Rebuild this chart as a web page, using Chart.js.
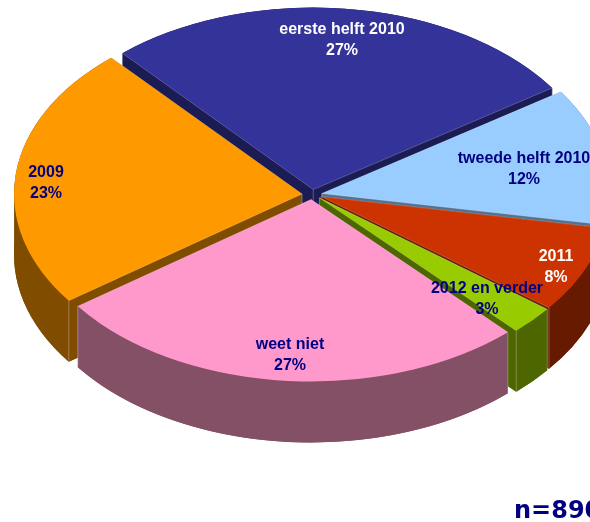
<!DOCTYPE html>
<html>
<head>
<meta charset="utf-8">
<style>html,body{margin:0;padding:0;background:#fff;overflow:hidden}canvas{display:block}</style>
<script src="https://cdn.jsdelivr.net/npm/chart.js@4/dist/chart.umd.min.js"></script>
</head>
<body>
<canvas id="c" width="590" height="522"></canvas>
<script>
const categories = ["eerste helft 2010", "tweede helft 2010", "2011", "2012 en verder", "weet niet", "2009"];
const values = [27.1, 12.2, 7.7, 2.55, 27.0, 23.45];
const note = "n=890";

const topColors = ["#333399", "#99CCFF", "#CC3300", "#99CC00", "#FF99CC", "#FF9900"];
const wallColors = ["#1C1C54", "#56718F", "#661A00", "#4D6600", "#845066", "#804D00"];
const labelColors = ["#FFFFFF", "#000080", "#FFFFFF", "#000080", "#000080", "#000080"];
const labelCentres = [[342, 30], [524, 159], [556, 257], [487, 289], [290, 345], [46, 173]];
const drawOrder = [0, 1, 5, 2, 3, 4];

const RX = 288, RY = 182, DEPTH = 61, EXPLODE_X = 10, EXPLODE_Y = 5;

const pie3d = {
  id: 'pie3d',
  beforeDatasetDraw(chart) {
    const ctx = chart.ctx;
    const els = chart.getDatasetMeta(0).data;
    ctx.save();
    drawOrder.forEach(i => {
      const el = els[i];
      const a0 = el.startAngle, a1 = el.endAngle, mid = (a0 + a1) / 2;
      const cx = el.x + Math.cos(mid) * EXPLODE_X;
      const cy = el.y + Math.sin(mid) * EXPLODE_Y;
      const rim = a => [cx + Math.cos(a) * RX, cy + Math.sin(a) * RY];
      const p0 = rim(a0), p1 = rim(a1);
      const sector = dz => {
        ctx.beginPath();
        ctx.moveTo(cx, cy + dz);
        ctx.ellipse(cx, cy + dz, RX, RY, 0, a0, a1);
        ctx.closePath();
      };
      const quad = p => {
        ctx.beginPath();
        ctx.moveTo(cx, cy);
        ctx.lineTo(p[0], p[1]);
        ctx.lineTo(p[0], p[1] + DEPTH);
        ctx.lineTo(cx, cy + DEPTH);
        ctx.closePath();
        ctx.fill();
      };
      ctx.fillStyle = wallColors[i];
      ctx.lineWidth = 1;
      sector(DEPTH);
      ctx.fill();
      ctx.beginPath();
      ctx.ellipse(cx, cy, RX, RY, 0, a0, a1);
      ctx.ellipse(cx, cy + DEPTH, RX, RY, 0, a1, a0, true);
      ctx.closePath();
      ctx.fill();
      quad(p0);
      quad(p1);
      [-Math.PI, 0, Math.PI, 2 * Math.PI].forEach(a => {
        if (a > a0 && a < a1) quad(rim(a));
      });
      ctx.strokeStyle = 'rgba(255,255,255,0.28)';
      [p0, p1, [cx, cy]].forEach(p => {
        ctx.beginPath();
        ctx.moveTo(p[0], p[1]);
        ctx.lineTo(p[0], p[1] + DEPTH);
        ctx.stroke();
      });
      sector(0);
      ctx.fillStyle = topColors[i];
      ctx.fill();
      ctx.strokeStyle = 'rgba(255,255,255,0.22)';
      ctx.beginPath();
      ctx.moveTo(p0[0], p0[1]);
      ctx.lineTo(cx, cy);
      ctx.lineTo(p1[0], p1[1]);
      ctx.stroke();
    });
    ctx.restore();
    return false;
  },
  afterDatasetsDraw(chart) {
    const ctx = chart.ctx;
    ctx.save();
    ctx.textAlign = 'center';
    ctx.textBaseline = 'middle';
    ctx.font = 'bold 16px "Liberation Sans", Arial, sans-serif';
    categories.forEach((name, i) => {
      const [x, y] = labelCentres[i];
      ctx.fillStyle = labelColors[i];
      ctx.fillText(name, x, y);
      ctx.fillText(Math.round(values[i]) + '%', x, y + 20.5);
    });
    ctx.textAlign = 'left';
    ctx.textBaseline = 'alphabetic';
    ctx.font = 'bold 24px "DejaVu Sans", Verdana, sans-serif';
    ctx.fillStyle = '#000080';
    ctx.fillText(note, 514, 518);
    ctx.restore();
  }
};

new Chart(document.getElementById('c'), {
  type: 'pie',
  data: {
    labels: categories,
    datasets: [{ data: values, backgroundColor: topColors, borderWidth: 0, radius: RY }]
  },
  options: {
    responsive: false,
    animation: false,
    rotation: -41.5,
    layout: { padding: { left: 34, right: 0, top: 0, bottom: 133 } },
    plugins: { legend: { display: false }, tooltip: { enabled: false } }
  },
  plugins: [pie3d]
});
</script>
</body>
</html>
